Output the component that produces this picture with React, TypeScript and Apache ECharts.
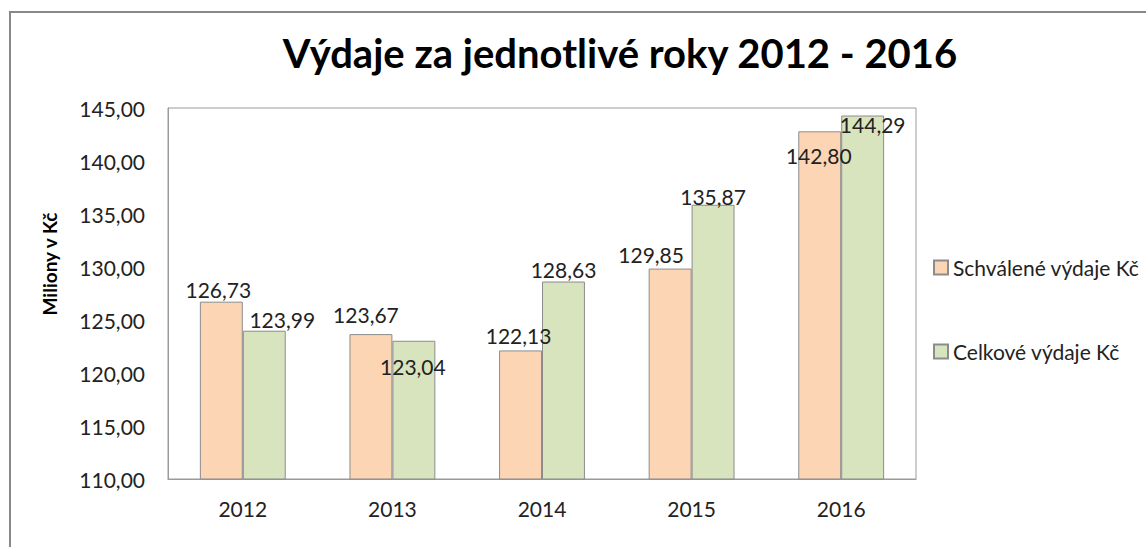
import React, { useEffect, useRef } from "react";
import * as echarts from "echarts";

const categories = ["2012", "2013", "2014", "2015", "2016"];
const approved = [126.73, 123.67, 122.13, 129.85, 142.8];
const total = [123.99, 123.04, 128.63, 135.87, 144.29];
const approvedLabelOffsets = [[-3, 0], [-5, -7], [-2, -2], [-19, -2], [-1, 37]];
const totalLabelOffsets = [[18, 1], [-1, 38], [0, 0], [0, 4], [10, 21]];
const seriesNames = ["Schválené výdaje Kč", "Celkové výdaje Kč"];
const titleText = "Výdaje za jednotlivé roky 2012 - 2016";
const axisName = "Miliony v Kč";

const fmt = (v: number) => v.toFixed(2).replace(".", ",");
const FONT = "Lato";

export default function App() {
  const ref = useRef<HTMLDivElement>(null);
  useEffect(() => {
    const chart = echarts.init(ref.current!, null, { renderer: "svg" });
    const mk = (vals: number[], offs: number[][]) =>
      vals.map((v, i) => ({
        value: v,
        label: { offset: offs[i] },
      }));
    const labelBase = {
      show: true,
      position: "top",
      distance: 2,
      fontFamily: FONT,
      fontSize: 21,
      color: "#222",
      formatter: (p: any) => fmt(p.value),
    };
    chart.setOption({
      animation: false,
      backgroundColor: "#fff",
      graphic: [
        {
          type: "rect",
          shape: { x: 10, y: 12, width: 1300, height: 700 },
          style: { fill: "none", stroke: "#888", lineWidth: 2 },
          silent: true,
        },
        {
          type: "text",
          x: 620,
          y: 53,
          style: {
            text: titleText,
            align: "center",
            verticalAlign: "middle",
            fontFamily: FONT,
            fontWeight: "bold",
            fontSize: 40,
            fill: "#000",
          },
        },
        {
          type: "text",
          x: 49,
          y: 264,
          rotation: Math.PI / 2,
          style: {
            text: axisName,
            align: "center",
            verticalAlign: "middle",
            fontFamily: FONT,
            fontWeight: "bold",
            fontSize: 19,
            fill: "#000",
          },
        },
      ],
      legend: {
        orient: "vertical",
        left: 928,
        top: 252,
        icon: "rect",
        itemWidth: 14,
        itemHeight: 14,
        itemGap: 63,
        textStyle: { fontFamily: FONT, fontSize: 21, color: "#222" },
        data: seriesNames,
      },
      grid: {
        left: 168,
        top: 108,
        width: 748,
        height: 371,
        show: true,
        borderColor: "#9a9a9a",
        borderWidth: 1,
      },
      xAxis: {
        type: "category",
        data: categories,
        axisLine: { lineStyle: { color: "#9a9a9a" } },
        axisTick: { show: false },
        axisLabel: { fontFamily: FONT, fontSize: 21, color: "#222", margin: 19 },
      },
      yAxis: {
        type: "value",
        min: 110,
        max: 145,
        interval: 5,
        axisLine: { show: true, lineStyle: { color: "#9a9a9a" } },
        axisTick: { show: false },
        splitLine: { show: false },
        axisLabel: {
          fontFamily: FONT,
          fontSize: 21,
          color: "#222",
          margin: 23,
          formatter: (v: number) => fmt(v),
        },
      },
      series: [
        {
          name: seriesNames[0],
          type: "bar",
          barWidth: "28.7%",
          barGap: "0%",
          itemStyle: { color: "#FCD5B5", borderColor: "#8c8c8c", borderWidth: 1 },
          label: labelBase,
          data: mk(approved, approvedLabelOffsets),
        },
        {
          name: seriesNames[1],
          type: "bar",
          barWidth: "28.7%",
          barGap: "0%",
          itemStyle: { color: "#D7E4BD", borderColor: "#8c8c8c", borderWidth: 1 },
          label: labelBase,
          data: mk(total, totalLabelOffsets),
        },
      ],
    });
    return () => chart.dispose();
  }, []);
  return (
    <div
      ref={ref}
      style={{ position: "fixed", left: 0, top: 0, width: 1146, height: 547 }}
    />
  );
}
